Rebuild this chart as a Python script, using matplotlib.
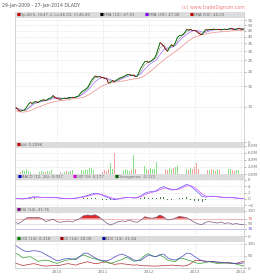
import numpy as np
import pandas as pd
import matplotlib
matplotlib.use('Agg')
import matplotlib.pyplot as plt
import matplotlib.dates as mdates
from matplotlib.collections import LineCollection
from matplotlib.patches import Rectangle

# ---- data ----
start_date = '2009-01-29'
end_date = '2014-01-27'

# semi-monthly close price
close = [9.9, 9.7, 9.3, 9.2, 9.3, 9.4, 9.9, 10.5, 10.9, 10.7,
         11.0, 11.1, 10.9, 11.2, 11.4, 11.5, 11.3, 11.6, 11.8, 12.0,
         12.5, 12.0, 11.8, 11.7, 11.6, 11.8, 11.9, 11.8, 12.0, 12.0,
         12.1, 12.0, 12.2, 12.3, 12.9, 13.5, 13.8, 14.2, 14.6, 15.6,
         16.8, 17.6, 18.4, 18.0, 18.2, 18.0, 17.8, 17.6, 17.4, 16.0,
         16.2, 16.8, 16.5, 16.9, 17.3, 17.7, 17.9, 18.2, 18.6, 18.9,
         19.0, 18.5, 18.8, 18.2, 18.3, 19.9, 21.6, 23.0, 24.4, 24.6,
         24.0, 24.5, 25.3, 26.0, 28.0, 31.5, 35.5, 34.4, 33.0, 31.0,
         29.9, 32.5, 34.1, 33.0, 35.5, 39.0, 40.6, 41.0, 41.6, 43.5,
         46.0, 45.5, 46.0, 45.2, 45.0, 44.6, 43.0, 42.0, 41.6, 44.0,
         46.0, 45.5, 46.2, 45.8, 46.5, 45.9, 46.3, 46.0, 45.6, 46.1,
         46.4, 45.9, 46.6, 47.2, 46.5, 46.0, 46.4, 47.0, 46.6, 46.2,
         46.4]

# semi-monthly volume (millions)
volume = [0.6, 0.9, 0.5, 0.7, 1.2, 0.8, 1.5, 0.9, 0.6, 0.8,
          0.5, 0.7, 0.4, 0.6, 0.9, 0.5, 0.7, 0.8, 0.6, 1.1,
          2.0, 0.9, 0.6, 0.5, 0.7, 0.4, 0.6, 0.8, 0.5, 0.9,
          1.2, 3.0, 1.0, 0.8, 1.4, 1.1, 0.9, 1.3, 1.0, 1.6,
          1.8, 1.2, 1.0, 0.8, 1.1, 0.9, 0.7, 1.0, 0.8, 1.3,
          3.0, 1.5, 6.0, 1.2, 1.0, 0.8, 1.1, 0.9, 1.4, 1.0,
          0.8, 1.2, 5.3, 1.3, 0.9, 1.6, 1.9, 1.4, 2.2, 1.5,
          1.2, 1.7, 1.3, 1.5, 3.5, 2.0, 2.4, 1.6, 2.5, 1.4,
          1.2, 1.8, 1.3, 1.6, 1.9, 2.2, 1.5, 1.3, 1.1, 1.7,
          1.4, 1.2, 1.6, 1.3, 1.9, 3.0, 1.5, 2.5, 1.8, 1.4,
          1.6, 1.2, 1.0, 1.4, 1.1, 0.9, 1.3, 1.0, 1.2, 0.8,
          1.1, 0.9, 1.3, 1.5, 1.0, 0.8, 1.2, 1.0, 0.9, 1.1,
          0.7]

# monthly indicators
sma10 = [9.9, 9.6, 9.3, 9.4, 10.2, 10.8, 11.0, 11.2, 11.4, 11.6,
         12.1, 12.1, 11.8, 11.8, 11.9, 12.0, 12.1, 12.5, 13.4, 14.2,
         16.0, 17.8, 18.1, 17.9, 17.5, 16.6, 16.5, 17.0, 17.6, 18.4,
         18.9, 18.6, 18.3, 20.0, 23.0, 24.3, 24.8, 26.5, 32.0, 33.8,
         31.0, 33.0, 34.2, 38.5, 41.0, 44.0, 45.6, 45.1, 44.0, 42.3,
         44.5, 45.8, 46.0, 46.0, 45.8, 46.0, 46.2, 46.6, 46.4, 46.7,
         47.0]
sma20 = [9.8, 9.6, 9.4, 9.5, 10.0, 10.6, 10.9, 11.1, 11.3, 11.5,
         11.8, 12.0, 11.9, 11.8, 11.9, 12.0, 12.1, 12.4, 13.0, 13.8,
         15.0, 16.4, 17.4, 17.8, 17.6, 17.1, 16.6, 16.8, 17.4, 18.0,
         18.5, 18.6, 18.4, 19.2, 21.0, 22.8, 24.0, 25.2, 28.0, 31.0,
         32.0, 32.2, 33.5, 36.5, 39.5, 41.8, 44.0, 45.2, 45.0, 43.8,
         43.6, 44.8, 45.6, 46.0, 46.0, 46.0, 46.2, 46.5, 46.5, 46.6,
         46.7]
sma50 = [9.3, 9.1, 9.0, 9.1, 9.3, 9.6, 9.9, 10.2, 10.5, 10.8,
         11.0, 11.2, 11.3, 11.4, 11.5, 11.7, 11.8, 11.9, 12.1, 12.5,
         13.1, 13.8, 14.5, 15.2, 15.7, 16.0, 16.2, 16.4, 16.6, 16.8,
         17.1, 17.3, 17.5, 17.8, 18.6, 19.6, 20.8, 22.2, 23.7, 25.3,
         26.8, 28.2, 29.8, 31.5, 33.5, 35.8, 37.8, 39.5, 40.6, 41.5,
         42.2, 42.8, 43.3, 43.7, 44.0, 44.3, 44.6, 44.8, 45.0, 45.2,
         45.4]

macd = [0.1, 0.1, 0.0, 0.2, 0.5, 0.7, 0.6, 0.5, 0.4, 0.4,
        0.5, 0.4, 0.2, 0.2, 0.2, 0.2, 0.3, 0.5, 0.8, 1.1,
        1.5, 1.8, 1.6, 1.1, 0.6, 0.1, -0.2, 0.0, 0.3, 0.5,
        0.5, 0.3, 0.4, 1.0, 1.8, 2.2, 2.3, 2.6, 3.4, 3.9,
        3.2, 2.8, 2.9, 3.4, 4.0, 4.6, 4.0, 3.0, 2.0, 0.8,
        0.6, 0.8, 0.9, 0.7, 0.5, 0.4, 0.4, 0.4, 0.3, 0.2,
        0.06]
macd_exp = [0.1, 0.1, 0.1, 0.1, 0.3, 0.5, 0.6, 0.5, 0.5, 0.4,
            0.4, 0.4, 0.3, 0.2, 0.2, 0.2, 0.2, 0.4, 0.6, 0.9,
            1.2, 1.5, 1.6, 1.3, 0.9, 0.5, 0.1, 0.0, 0.2, 0.4,
            0.5, 0.4, 0.4, 0.7, 1.3, 1.8, 2.1, 2.4, 2.9, 3.4,
            3.4, 3.1, 2.9, 3.1, 3.6, 4.1, 4.2, 3.6, 2.7, 1.6,
            0.9, 0.8, 0.8, 0.8, 0.6, 0.5, 0.4, 0.4, 0.3, 0.2,
            0.18]
divergence = [0.0, 0.0, -0.1, 0.1, 0.2, 0.2, 0.0, 0.0, -0.1, 0.0,
              0.1, 0.0, -0.1, 0.0, 0.0, 0.0, 0.1, 0.1, 0.2, 0.2,
              0.3, 0.3, 0.0, -0.2, -0.3, -0.4, -0.3, 0.0, 0.1, 0.1,
              0.0, -0.1, 0.0, 0.3, 0.5, 0.4, 0.2, 0.2, 0.5, 0.5,
              -0.2, -0.3, 0.0, 0.3, 0.4, 0.5, -0.2, -0.6, -0.7, -0.8,
              -0.3, 0.0, 0.1, -0.1, -0.1, -0.1, 0.0, 0.0, 0.0, 0.0,
              -0.12]

rsi = [55, 50, 60, 72, 74, 73, 74, 70, 58, 62,
       68, 57, 55, 58, 60, 56, 63, 70, 81, 84,
       82, 85, 77, 64, 52, 44, 50, 57, 60, 58,
       64, 57, 55, 63, 77, 73, 71, 75, 84, 76,
       64, 66, 72, 78, 76, 73, 64, 55, 48, 46,
       55, 58, 54, 52, 56, 50, 53, 47, 50, 46,
       45.8]

adx = [95, 85, 74, 68, 70, 72, 70, 66, 56, 48,
       38, 30, 33, 38, 40, 37, 35, 48, 61, 62,
       52, 42, 34, 31, 30, 35, 45, 53, 58, 52,
       44, 34, 30, 32, 44, 54, 50, 47, 56, 58,
       42, 36, 33, 40, 50, 62, 60, 48, 38, 30,
       28, 27, 26, 25, 24, 22, 22, 20, 19, 18,
       21.8]
plus_di = [62, 55, 42, 45, 47, 38, 28, 30, 33, 30,
           24, 19, 25, 30, 34, 37, 40, 48, 54, 48,
           42, 38, 33, 28, 23, 19, 24, 30, 35, 44,
           40, 28, 30, 38, 52, 60, 50, 48, 54, 45,
           33, 29, 27, 38, 40, 34, 30, 24, 19, 20,
           24, 26, 22, 19, 20, 21, 22, 20, 16, 12,
           8.3]
minus_di = [20, 16, 10, 13, 16, 18, 14, 10, 8, 9,
            11, 10, 12, 16, 18, 15, 12, 18, 22, 26,
            22, 18, 20, 24, 26, 20, 15, 17, 18, 16,
            14, 12, 13, 10, 9, 9, 8, 8, 9, 10,
            11, 12, 11, 10, 8, 10, 18, 30, 32, 30,
            28, 27, 26, 24, 22, 21, 20, 18, 20, 24,
            28.1]

price_ticks = [5, 10, 15, 20, 25, 30, 35, 40, 45, 50, 55]
vol_ticks = [0, 2, 4, 6, 8]
macd_ticks = [-2, 0, 2, 4, 6]
rsi_ticks = [0, 30, 50, 70, 100]
adx_ticks = [0, 50, 100]

d_half = pd.date_range(start_date, end_date, periods=len(close))
d_month = pd.date_range(start_date, end_date, periods=len(sma20))

# ---- figure ----
W, H = 260, 280
fig = plt.figure(figsize=(W / 100, H / 100), dpi=100)
fig.patch.set_facecolor('white')

LEFT, RIGHT = 15, 244
HDR = 6


def panel(top, bottom):
    return fig.add_axes((LEFT / W, 1 - bottom / H, (RIGHT - LEFT) / W, (bottom - top) / H))


def style(ax, top, bottom):
    ax.set_xlim(d_half[0], d_half[-1])
    for s in ax.spines.values():
        s.set_color('#c4c4c4')
        s.set_linewidth(0.5)
    ax.yaxis.tick_right()
    ax.tick_params(axis='y', labelsize=3, colors='#777777', length=1.5, width=0.4, pad=1)
    ax.tick_params(axis='x', length=0, labelbottom=False)
    ax.xaxis.set_major_locator(mdates.YearLocator())
    ax.grid(True, color='#d8d8d8', lw=0.4, ls=(0, (2, 2)))
    ax.set_axisbelow(True)
    hf = HDR / (bottom - top)
    ax.add_patch(Rectangle((0, 1 - hf), 1, hf, transform=ax.transAxes,
                           facecolor='#dcdcdc', edgecolor='none', zorder=5))
    return 1 - hf / 2


def header(ax, yc, items):
    for xp, col, txt in items:
        xf = (xp - LEFT) / (RIGHT - LEFT)
        ax.text(xf, yc, '\u25a0', color=col, fontsize=3, va='center', ha='left',
                transform=ax.transAxes, zorder=6)
        ax.text(xf + 0.014, yc, txt, color='#666666', fontsize=2.8, va='center', ha='left',
                transform=ax.transAxes, zorder=6)


# price panel
ax = panel(12, 142)
ax.set_yscale('log')
ax.set_ylim(5, 65)
yc = style(ax, 12, 142)
ax.set_yticks(price_ticks)
ax.set_yticklabels([str(t) for t in price_ticks])
ax.yaxis.set_minor_locator(matplotlib.ticker.NullLocator())
xn = mdates.date2num(d_half)
ax.plot(d_month, sma50, color='#f08a8a', lw=0.5)
ax.plot(d_month, sma20, color='#a070ff', lw=0.5)
ax.plot(d_month, sma10, color='#909090', lw=0.4)
pts = np.column_stack([xn, close])
segs = np.stack([pts[:-1], pts[1:]], axis=1)
up = np.diff(close) >= 0
ax.plot(d_half, close, color='black', lw=0.45)
lc = LineCollection(segs, colors=np.where(up, '#00a000', '#cc0000'), linewidths=0.45)
ax.add_collection(lc)
header(ax, yc, [(17, '#cc0000', 'Op:46.5, Hi:47.3, Lo:46.03, Cl:46.40'),
                (100, '#000000', 'SMA (10): 47.03'),
                (145, '#8000ff', 'SMA (20): 47.08'),
                (190, '#c00000', 'SMA (50): 46.03')])

# volume panel
ax = panel(142, 174)
ax.set_ylim(0, 9.1)
yc = style(ax, 142, 174)
ax.set_yticks(vol_ticks)
ax.set_yticklabels(['%.1fM' % t for t in vol_ticks])
vcol = ['#88e088'] + ['#88e088' if u else '#f0a0a0' for u in up]
ax.bar(d_half, volume, width=5, color=vcol, linewidth=0)
header(ax, yc, [(17, '#cc0000', 'Vol: 0.209K')])

# macd panel
ax = panel(174, 207)
ax.set_ylim(-2.5, 7.8)
yc = style(ax, 174, 207)
ax.set_yticks(macd_ticks)
ax.bar(d_month, divergence, width=8, color='#408040', linewidth=0)
ax.plot(d_month, macd, color='#5a5aff', lw=0.5)
ax.plot(d_month, macd_exp, color='#d050ff', lw=0.5)
header(ax, yc, [(18, '#0000cc', 'MACD (12, 26): 0.057'),
                (73, '#e000e0', 'EXP (9): 0.177'),
                (115, '#006000', 'Divergence: -0.121')])

# rsi panel
ax = panel(207, 236)
ax.set_ylim(0, 116)
yc = style(ax, 207, 236)
ax.set_yticks(rsi_ticks)
ax.axhline(70, color='#f0a0a0', lw=0.5)
ax.axhline(30, color='#b0b0f0', lw=0.5)
ax.axhline(50, color='#b0b0b0', lw=0.4, ls=(0, (1, 1)))
rsi_arr = np.array(rsi, dtype=float)
ax.fill_between(d_month, 70, rsi_arr, where=rsi_arr > 70, interpolate=True,
                color='#e02828', linewidth=0)
ax.plot(d_month, rsi, color='#7a5a7a', lw=0.5)
for lbl, t in zip(ax.get_yticklabels(), rsi_ticks):
    if t == 70:
        lbl.set_color('#e06060')
    elif t == 30:
        lbl.set_color('#6060e0')
header(ax, yc, [(17, '#800080', 'RSI (14): 45.76')])

# adx panel
ax = panel(236, 268)
ax.set_ylim(0, 133)
yc = style(ax, 236, 268)
ax.set_yticks(adx_ticks)
ax.plot(d_month, minus_di, color='#b03030', lw=0.5)
ax.plot(d_month, plus_di, color='#30a030', lw=0.5)
ax.plot(d_month, adx, color='#4848c0', lw=0.5)
ax.tick_params(axis='x', labelbottom=True, labelsize=3, colors='#777777', pad=1.5)
ax.xaxis.set_major_formatter(mdates.DateFormatter('%Y'))
header(ax, yc, [(17, '#008000', '+DI (14): 8.318'),
                (60, '#a00000', '-DI (14): 28.08'),
                (102, '#0000a0', 'ADX (14): 21.84')])

fig.text(2 / W, 1 - 6 / H, '29-Jan-2009 - 27-Jan-2014 DLADY', fontsize=3.3,
         color='#555555', va='center', ha='left')
fig.text(245 / W, 1 - 7 / H, '(c) www.tradeSignum.com', fontsize=3.4,
         color='#f08080', va='center', ha='right')

fig.savefig('out.png', dpi=100, facecolor='white')
